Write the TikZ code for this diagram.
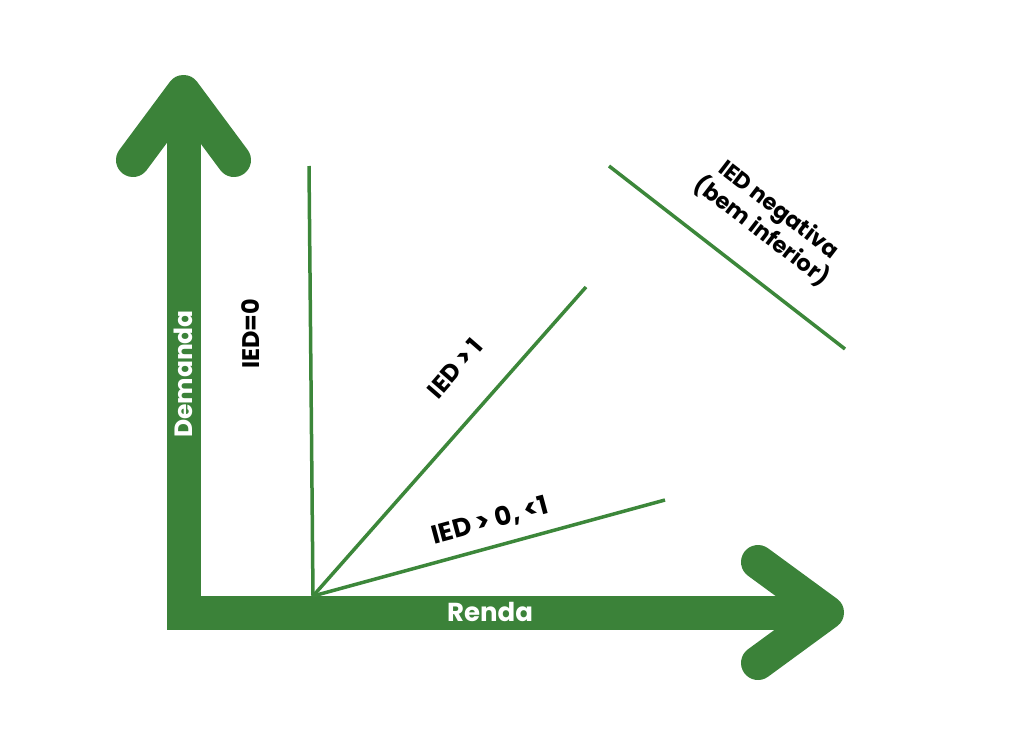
\documentclass[tikz,border=0pt]{standalone}
\usepackage{fontspec}
\setmainfont{Poppins}
\definecolor{axisgreen}{RGB}{59,130,57}
\definecolor{linegreen}{RGB}{60,135,58}
\newcommand{\fsz}[1]{\bfseries\fontsize{#1}{25}\selectfont}
\begin{document}
\begin{tikzpicture}[x=1pt,y=-1pt,
  axis/.style={draw=axisgreen,line width=34pt},
  chev/.style={draw=axisgreen,line width=34pt,line cap=round,line join=round},
  curve/.style={draw=linegreen,line width=3.5pt},
  lab/.style={text=black,inner sep=0pt,align=center},
  axlab/.style={text=white,inner sep=0pt}]
\useasboundingbox (0,0) rectangle (1024,744);
% axes
\coordinate (ytip) at (183.5,92);
\coordinate (corner) at (183.5,612.5);
\coordinate (xtip) at (827,612.5);
\coordinate (yl) at (133,160);
\coordinate (yr) at (234,160);
\coordinate (xu) at (758,562);
\coordinate (xd) at (758,663);
\draw[axis,line join=miter] (ytip) -- (corner) -- (xtip);
\draw[chev] (yl) -- (ytip) -- (yr);
\draw[chev] (xu) -- (xtip) -- (xd);
% curves
\coordinate (o) at (313,596);
\coordinate (a0) at (309,166);
\coordinate (a1) at (586,287);
\coordinate (a2) at (665,500);
\coordinate (n1) at (609,166);
\coordinate (n2) at (845,349);
\draw[curve] (o) -- (a0);
\draw[curve] (o) -- (a1);
\draw[curve] (o) -- (a2);
\draw[curve] (n1) -- (n2);
% labels
\node[axlab,rotate=90,font=\fsz{25}] (demanda) at (183.5,374) {Demanda};
\node[axlab,font=\fsz{26}] (renda) at (490,612) {Renda};
\node[lab,rotate=90,font=\fsz{24}] (ied0) at (251,334) {IED=0};
\node[lab,rotate=49,font=\fsz{24}] (ied1) at (455,368) {IED > 1};
\node[lab,rotate=15,font=\fsz{26}] (ied01) at (490,521) {IED > 0, <1};
\node[lab,rotate=-37.5,font=\fsz{22.5}] (iedneg) at (770,221) {IED negativa\\(bem inferior)};
\end{tikzpicture}
\end{document}
